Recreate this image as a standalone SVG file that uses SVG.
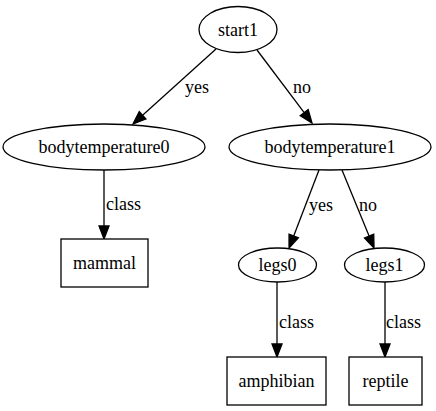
<svg xmlns="http://www.w3.org/2000/svg" width="436" height="411" viewBox="0 0 436 411">
<style>
.n{fill:#fff;stroke:#000;stroke-width:1.3}
text{font-family:'Liberation Serif','Times New Roman','DejaVu Serif',serif;font-size:18px;fill:#000}
.c{text-anchor:middle}
.e{fill:none;stroke:#000;stroke-width:1.3;marker-end:url(#ah)}
</style>
<defs>
<marker id="ah" markerUnits="userSpaceOnUse" markerWidth="14" markerHeight="12" refX="0" refY="5" orient="auto" overflow="visible">
<path d="M0,0 L13,5 L0,10 Z" fill="#000" stroke="#000" stroke-width="1.3"/>
</marker>
</defs>
<rect width="436" height="411" fill="#fff"/>
<g font-family="Liberation Serif, Times New Roman, serif" font-size="18">
<g id="edges">
<path class="e" d="M216,49 L142.6,115.3"/>
<text x="185" y="93">yes</text>
<path class="e" d="M257,50 L304.2,112.6"/>
<text x="293" y="93">no</text>
<path class="e" d="M104,170 L104,226"/>
<text x="106" y="210">class</text>
<path class="e" d="M319,170 L293.7,235.9"/>
<text x="309" y="211">yes</text>
<path class="e" d="M342,170 L369.1,236"/>
<text x="359" y="211">no</text>
<path class="e" d="M277,282 L277,344"/>
<text x="279" y="328">class</text>
<path class="e" d="M385,282 L385,344"/>
<text x="386" y="328">class</text>
</g>
<g id="start1"><ellipse class="n" cx="238" cy="29.5" rx="39" ry="23"/><text class="c" x="238" y="35.5">start1</text></g>
<g id="bodytemperature0"><ellipse class="n" cx="104" cy="147" rx="101" ry="23"/><text class="c" x="104" y="153">bodytemperature0</text></g>
<g id="bodytemperature1"><ellipse class="n" cx="330" cy="147" rx="101" ry="23"/><text class="c" x="330" y="153">bodytemperature1</text></g>
<g id="mammal"><rect class="n" x="61" y="239" width="87" height="48"/><text class="c" x="104.5" y="269">mammal</text></g>
<g id="legs0"><ellipse class="n" cx="277.5" cy="265" rx="39" ry="17"/><text class="c" x="277.5" y="271">legs0</text></g>
<g id="legs1"><ellipse class="n" cx="384.5" cy="265" rx="40" ry="17"/><text class="c" x="384.5" y="271">legs1</text></g>
<g id="amphibian"><rect class="n" x="227" y="357" width="99" height="48"/><text class="c" x="276.5" y="387">amphibian</text></g>
<g id="reptile"><rect class="n" x="349" y="357" width="73" height="48"/><text class="c" x="385.5" y="387">reptile</text></g>
</g>
</svg>
